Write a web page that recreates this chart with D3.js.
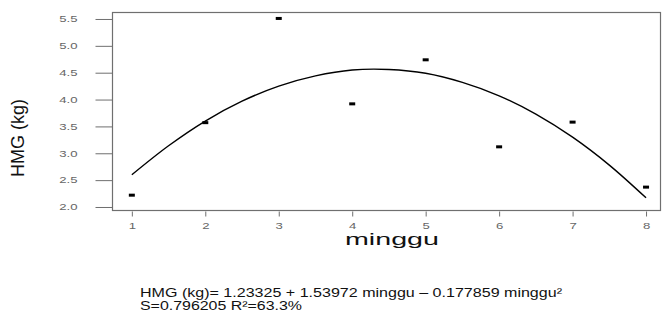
<!DOCTYPE html>
<html>
<head>
<meta charset="utf-8">
<script src="https://cdn.jsdelivr.net/npm/d3@7"></script>
<style>
  body { margin: 0; background: #fff; }
  svg { display: block; font-family: "Liberation Sans", Arial, sans-serif; }
</style>
</head>
<body>
<svg id="chart" width="666" height="323"></svg>
<script>
// observed points (week vs HMG)
var weeks = [1, 2, 3, 4, 5, 6, 7, 8];
var hmg = [2.22, 3.57, 5.51, 3.92, 4.74, 3.12, 3.58, 2.37];

// fitted quadratic
var fitX = [1, 1.5, 2, 2.5, 3, 3.5, 4, 4.5, 5, 5.5, 6, 6.5, 7, 7.5, 8];
var fitY = [2.60, 3.14, 3.60, 3.97, 4.25, 4.44, 4.55, 4.56, 4.49, 4.32, 4.07, 3.73, 3.30, 2.78, 2.17];

var xTicks = [1, 2, 3, 4, 5, 6, 7, 8];
var yTicks = [2.0, 2.5, 3.0, 3.5, 4.0, 4.5, 5.0, 5.5];

var eqLine1 = "HMG (kg)= 1.23325 + 1.53972 minggu \u2013 0.177859 minggu\u00b2";
var eqLine2 = "S=0.796205 R\u00b2=63.3%";

var svg = d3.select("#chart");

var plotL = 112, plotR = 660, plotT = 12, plotB = 210;

var x = d3.scaleLinear()
  .domain([0.73, 8.19])
  .range([plotL, plotR]);

var y = d3.scaleLinear()
  .domain([1.944, 5.63])
  .range([plotB, plotT]);

// the source picture is stretched sideways, so the text is too
function stretch(sel, k) {
  sel.each(function() {
    var t = d3.select(this),
        tx = +t.attr("x") || 0,
        ty = +t.attr("y") || 0;
    t.attr("transform", "translate(" + tx + "," + ty + ") scale(" + k + ",1) translate(" + (-tx) + "," + (-ty) + ")");
  });
}

// frame
svg.append("rect")
  .attr("x", plotL + 0.5)
  .attr("y", plotT + 0.5)
  .attr("width", plotR - plotL)
  .attr("height", plotB - plotT)
  .attr("fill", "none")
  .attr("stroke", "#6f6f6f")
  .attr("stroke-width", 1.2);

// y axis
var gy = svg.append("g")
  .attr("transform", "translate(" + (plotL + 0.5) + ",0)")
  .call(d3.axisLeft(y).tickValues(yTicks).tickSize(17).tickPadding(18).tickFormat(d3.format(".1f")));
gy.select(".domain").remove();
gy.selectAll("line").attr("stroke", "#6f6f6f");
gy.selectAll("text")
  .attr("fill", "#666")
  .attr("font-size", 8.5)
  .attr("font-family", "Liberation Sans, Arial, sans-serif")
  .call(stretch, 1.55);

// x axis
var gx = svg.append("g")
  .attr("transform", "translate(0," + 211.5 + ")")
  .call(d3.axisBottom(x).tickValues(xTicks).tickSize(5).tickPadding(6).tickFormat(d3.format("d")));
gx.select(".domain").remove();
gx.selectAll("line").attr("stroke", "#6f6f6f");
gx.selectAll("text")
  .attr("fill", "#666")
  .attr("font-size", 8.5)
  .attr("font-family", "Liberation Sans, Arial, sans-serif")
  .call(stretch, 1.55);

// fitted curve
var line = d3.line()
  .x(function(d) { return x(d[0]); })
  .y(function(d) { return y(d[1]); })
  .curve(d3.curveCatmullRom);

svg.append("path")
  .attr("d", line(d3.zip(fitX, fitY)))
  .attr("fill", "none")
  .attr("stroke", "#000")
  .attr("stroke-width", 1.4);

// points: small dashes
svg.selectAll("rect.pt")
  .data(d3.zip(weeks, hmg))
  .enter().append("rect")
  .attr("class", "pt")
  .attr("x", function(d) { return x(d[0]) - 3; })
  .attr("y", function(d) { return y(d[1]) - 1.5; })
  .attr("width", 6)
  .attr("height", 3)
  .attr("fill", "#000");

// axis titles
svg.append("text")
  .attr("x", 345)
  .attr("y", 245)
  .attr("font-size", 17)
  .attr("textLength", 94)
  .attr("lengthAdjust", "spacingAndGlyphs")
  .attr("fill", "#111")
  .text("minggu");

svg.append("text")
  .attr("transform", "translate(24,138) rotate(-90)")
  .attr("text-anchor", "middle")
  .attr("font-size", 18)
  .attr("fill", "#111")
  .text("HMG (kg)");

// regression note
svg.append("text")
  .attr("x", 140)
  .attr("y", 297)
  .attr("font-size", 12)
  .attr("textLength", 422)
  .attr("lengthAdjust", "spacingAndGlyphs")
  .attr("fill", "#111")
  .text(eqLine1);

svg.append("text")
  .attr("x", 140)
  .attr("y", 310)
  .attr("font-size", 12)
  .attr("textLength", 162)
  .attr("lengthAdjust", "spacingAndGlyphs")
  .attr("fill", "#111")
  .text(eqLine2);
</script>
</body>
</html>
